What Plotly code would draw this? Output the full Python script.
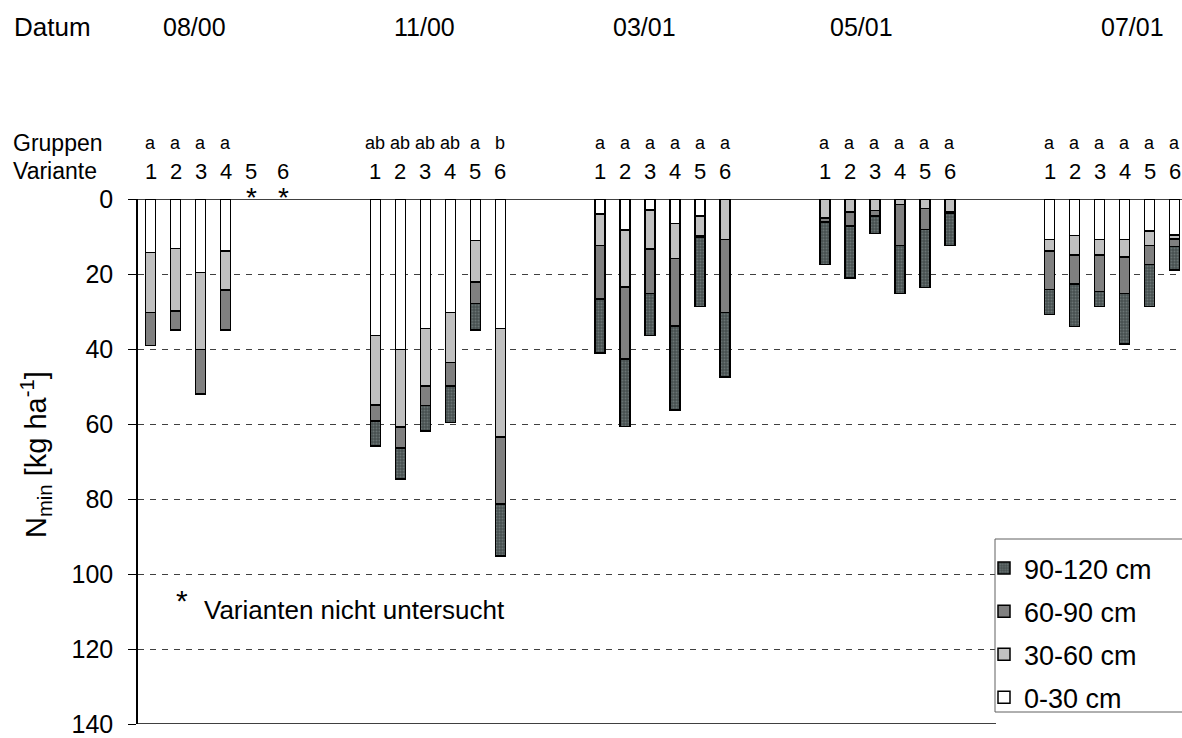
import plotly.graph_objects as go

# ---------------- data ----------------
dates = ["08/00", "11/00", "03/01", "05/01", "07/01"]
variants = ["1", "2", "3", "4", "5", "6"]
depths = ["0-30 cm", "30-60 cm", "60-90 cm", "90-120 cm"]

# values per depth layer, 5 dates x 6 variants (None = not examined)
d0_30 = [
    [14.3, 13.2, 19.6, 13.8, None, None],
    [36.4, 40.1, 34.5, 30.3, 11.1, 34.5],
    [4.0, 8.2, 2.9, 6.5, 4.5, 0],
    [0, 0, 0, 0, 0, 0],
    [10.8, 9.7, 10.8, 10.8, 8.5, 9.6],
]
d30_60 = [
    [16.0, 16.7, 20.5, 10.5, None, None],
    [18.5, 20.7, 15.4, 13.3, 11.0, 28.9],
    [8.4, 15.3, 10.4, 9.4, 5.3, 10.8],
    [5.0, 3.5, 3.0, 1.4, 2.5, 3.5],
    [3.1, 5.2, 4.1, 4.7, 3.9, 1.0],
]
d60_90 = [
    [8.8, 5.0, 11.9, 10.6, None, None],
    [4.3, 5.6, 5.1, 6.3, 5.7, 17.9],
    [14.3, 19.2, 11.9, 18.0, 0.3, 19.5],
    [1.1, 3.7, 1.5, 11.0, 5.6, 0.3],
    [10.2, 7.8, 9.7, 9.7, 5.0, 2.1],
]
d90_120 = [
    [None, None, None, None, None, None],
    [6.7, 8.3, 6.8, 9.7, 7.1, 13.9],
    [14.4, 18.0, 11.2, 22.4, 18.6, 17.1],
    [11.3, 13.9, 4.7, 12.8, 15.5, 8.6],
    [6.7, 11.3, 4.1, 13.4, 11.3, 6.2],
]
gruppen = [
    ["a", "a", "a", "a", "", ""],
    ["ab", "ab", "ab", "ab", "a", "b"],
    ["a", "a", "a", "a", "a", "a"],
    ["a", "a", "a", "a", "a", "a"],
    ["a", "a", "a", "a", "a", "a"],
]
yticks = [0, 20, 40, 60, 80, 100, 120, 140]

layers = [d0_30, d30_60, d60_90, d90_120]
colors = ["#ffffff", "#c0c0c0", "#808080", "#4a5353"]

# ---------------- layout helpers ----------------
W, H = 1182, 738
L, T, B = 138, 199, 14
PW, PH = W - L, H - T - B
GAP = 9  # slots per date group (6 bars + 3 empty)
FONT = "Liberation Sans, Arial, sans-serif"


def px(xp):
    return (xp - L) / PW


def py(yp):
    return (H - B - yp) / PH


xs = []
for g in range(len(dates)):
    for v in range(len(variants)):
        xs.append(g * GAP + v)

fig = go.Figure()
for i, (name, layer, col) in enumerate(zip(depths, layers, colors)):
    vals = [val for row in layer for val in row]
    marker = dict(color=col, line=dict(color="black", width=1.5))
    if i == 3:
        marker["pattern"] = dict(shape=".", bgcolor="#475050", fgcolor="#6a7474",
                                 size=3, solidity=0.35, fillmode="replace")
    fig.add_trace(go.Bar(
        x=xs, y=vals, name=name, marker=marker, width=0.4,
        legendgroup=name, legendrank=10 - i, hoverinfo="skip",
    ))

ann = []


def f(size):
    return dict(family=FONT, size=size, color="black")


# header rows
ann.append(dict(text="Datum", x=px(12), y=py(27), xanchor="left", yanchor="middle", font=f(26)))
for d, cx in zip(dates, [194, 424, 644, 861, 1132]):
    ann.append(dict(text=d, x=px(cx), y=py(27), xanchor="center", yanchor="middle", font=f(25)))
ann.append(dict(text="Gruppen", x=px(11), y=py(143), xanchor="left", yanchor="middle", font=f(23)))
ann.append(dict(text="Variante", x=px(11), y=py(171), xanchor="left", yanchor="middle", font=f(23)))

for g in range(len(dates)):
    for v in range(len(variants)):
        xv = g * GAP + v
        if g == 0 and v == 5:
            xv = 5.3
        if gruppen[g][v]:
            ann.append(dict(text=gruppen[g][v], x=xv, xref="x", y=py(143), yref="paper",
                            xanchor="center", yanchor="middle", font=f(18)))
        ann.append(dict(text=variants[v], x=xv, xref="x", y=py(171), yref="paper",
                        xanchor="center", yanchor="middle", font=f(22)))

# stars for not-examined variants
for xv in [4.05, 5.3]:
    ann.append(dict(text="*", x=xv, xref="x", y=py(197), yref="paper",
                    xanchor="center", yanchor="middle", font=f(28)))

# footnote
ann.append(dict(text="*", x=px(182), y=py(600), xanchor="center", yanchor="middle", font=f(30)))
ann.append(dict(text="Varianten nicht untersucht", x=px(202), y=py(610),
                xanchor="left", yanchor="middle", font=f(26)))

# y-axis title
ann.append(dict(text="N<sub>min</sub> [kg ha<sup>-1</sup>]", x=px(36), y=py(455),
                xanchor="center", yanchor="middle", textangle=-90, font=f(29)))

for a in ann:
    a.setdefault("xref", "paper")
    a.setdefault("yref", "paper")
    a["showarrow"] = False

shapes = [
    dict(type="line", xref="paper", yref="y", x0=0, x1=1, y0=0, y1=0,
         line=dict(color="black", width=1.5)),
    dict(type="line", xref="paper", yref="y", x0=0, x1=px(996), y0=140, y1=140,
         line=dict(color="black", width=1.5)),
    # legend frame
    dict(type="rect", xref="paper", yref="paper", x0=px(995), x1=px(1190),
         y0=py(712), y1=py(539), fillcolor="white", line=dict(color="#606060", width=1),
         layer="above"),
]

fig.update_layout(
    width=W, height=H,
    margin=dict(l=L, r=0, t=T, b=B, pad=0),
    paper_bgcolor="white", plot_bgcolor="white",
    barmode="stack",
    showlegend=True,
    legend=dict(
        x=px(984), y=py(544), xanchor="left", yanchor="top",
        traceorder="grouped", tracegroupgap=5,
        borderwidth=0, bgcolor="rgba(0,0,0,0)",
        font=f(27),
    ),
    xaxis=dict(range=[-0.51, 41.3], showticklabels=False, showgrid=False,
               zeroline=False, showline=False, ticks=""),
    yaxis=dict(range=[140, 0], tickvals=yticks, ticktext=[str(t) for t in yticks],
               showgrid=True, gridcolor="#404040", griddash="6px,6px", gridwidth=1,
               zeroline=False, showline=True, linecolor="black", linewidth=1.5,
               ticks="outside", ticklen=8, tickcolor="black", tickwidth=1,
               ticklabelstandoff=10, tickfont=f(25)),
    annotations=ann,
    shapes=shapes,
    font=dict(family=FONT, color="black"),
)

fig.write_html("out.html", config={"displayModeBar": False},
               post_script="document.body.style.margin='0px';")
